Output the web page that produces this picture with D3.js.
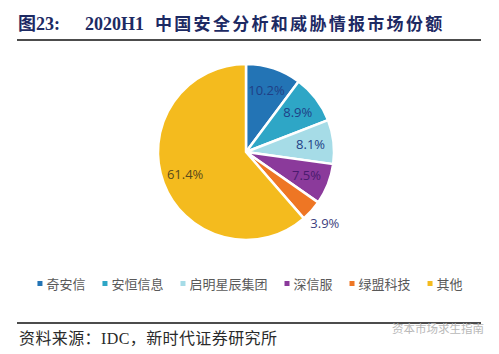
<html>
<head>
	<meta charset='utf-8' />
	<title>2020H1 share</title>
	<script src="https://cdn.jsdelivr.net/npm/d3@7"></script>
	<style>
	body { margin:0; background:#fff; }
	.slices path { stroke:#ffffff; stroke-width:2.5; stroke-linejoin:round; }
	</style>
</head>
<body>
<script>

	var companies = ["奇安信","安恒信息","启明星辰集团","深信服","绿盟科技","其他"];
	var shares = [10.2, 8.9, 8.1, 7.5, 3.9, 61.4];
	var shareLabels = ["10.2%","8.9%","8.1%","7.5%","3.9%","61.4%"];
	var sliceColors = ["#2374B5","#2EA6C6","#A6DCE7","#8B3A9B","#EE7624","#F4BB1E"];
	var labelColors = ["#1f3f86","#1f3f86","#1f3f86","#4a1a6e","#3d3f80","#5a4a1c"];

	var W = 499, H = 354;
	var cx = 246, cy = 152, R = 88;

	var svg = d3.select("body").append("svg")
		.attr("width",W).attr("height",H)
		.style("display","block");

	svg.append("rect").attr("width",W).attr("height",H).attr("fill","#fff");

	// title
	var title = svg.append("text")
		.attr("x",18).attr("y",30)
		.attr("font-family","'Liberation Serif','Noto Sans CJK SC'")
		.attr("font-weight","bold")
		.attr("font-size","17px")
		.attr("fill","#1d2a63");
	title.append("tspan").attr("font-size","18px").text("图23:");
	title.append("tspan").attr("x",85).attr("font-size","18px").text("2020H1");
	title.append("tspan").attr("x",155).attr("letter-spacing","2.3").text("中国安全分析和威胁情报市场份额");

	svg.append("line").attr("x1",17).attr("x2",481).attr("y1",40).attr("y2",40)
		.attr("stroke","#111").attr("stroke-width",1.6);

	// pie
	var data = companies.map((c,i)=>({name:c,value:shares[i],label:shareLabels[i]}));
	var pie = d3.pie().value(d=>d.value).sort(null);
	var arc = d3.arc().innerRadius(0).outerRadius(R);
	var labelArc = d3.arc().innerRadius(65).outerRadius(65);
	var outArc = d3.arc().innerRadius(106).outerRadius(106);

	var g = svg.append("g").attr("transform",`translate(${cx},${cy})`);
	var arcs = pie(data);

	g.append("g").attr("class","slices").selectAll("path")
		.data(arcs).enter().append("path")
		.attr("fill",(d,i)=>sliceColors[i])
		.attr("d",arc);

	g.append("g").selectAll("text")
		.data(arcs).enter().append("text")
		.attr("transform",(d,i)=>`translate(${(d.data.value<5?outArc:labelArc).centroid(d)})`)
		.attr("text-anchor","middle")
		.attr("dy","0.36em")
		.attr("font-family","'Open Sans','Noto Sans',sans-serif")
		.attr("font-size","13px")
		.attr("fill",(d,i)=>labelColors[i])
		.text(d=>d.data.label);

	// legend
	var legend = svg.append("g").attr("font-family","'Noto Sans CJK SC',sans-serif").attr("font-size","13px");
	var items = legend.selectAll("g").data(companies).enter().append("g");
	items.append("rect").attr("width",5).attr("height",5).attr("y",-3)
		.attr("fill",(d,i)=>sliceColors[i]);
	items.append("text").attr("x",9).attr("dy","0.36em").attr("fill","#595959").text(d=>d);
	var xpos = 0;
	items.each(function(){
		var w = d3.select(this).select("text").node().getComputedTextLength();
		d3.select(this).attr("transform",`translate(${xpos},0)`);
		xpos += 9 + w + 17;
	});
	var total = xpos - 17;
	legend.attr("transform",`translate(${250-total/2},284)`);

	// footer
	svg.append("line").attr("x1",17).attr("x2",481).attr("y1",323).attr("y2",323)
		.attr("stroke","#111").attr("stroke-width",1.6);
	svg.append("text").attr("x",19).attr("y",344)
		.attr("font-family","'Liberation Serif','Noto Sans CJK SC'")
		.attr("font-size","16px").attr("letter-spacing","0.4").attr("fill","#2a2a2a")
		.text("资料来源：IDC，新时代证券研究所");

	// watermark
	svg.append("text").attr("x",392).attr("y",333)
		.attr("font-family","'Noto Sans CJK SC',sans-serif")
		.attr("font-size","11.5px").attr("fill","#b8b8b8")
		.text("资本市场求生指南");

</script>
</body>
</html>
